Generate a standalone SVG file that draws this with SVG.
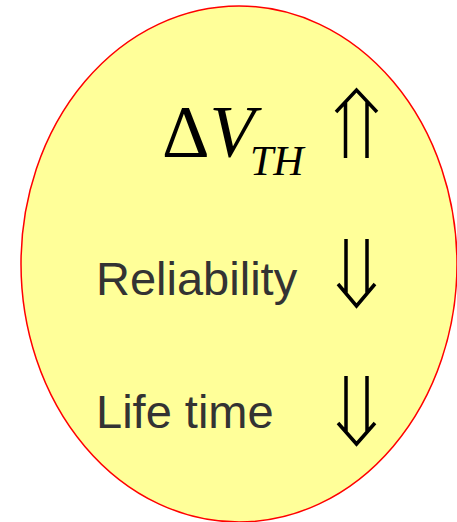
<svg xmlns="http://www.w3.org/2000/svg" width="457" height="522" viewBox="0 0 457 522">
<style>
.serif{font-family:"Liberation Serif","Times New Roman",serif;fill:#000}
.sans{font-family:"Liberation Sans",Arial,sans-serif;font-size:47px;fill:#333333}
.arrow{fill:none;stroke:#000;stroke-width:3.5;stroke-linecap:butt;stroke-linejoin:miter}
</style>
<rect width="457" height="522" fill="#ffffff"/>
<g id="oval">
<ellipse cx="239" cy="264" rx="218" ry="258" fill="#ffff99" stroke="#ff0000" stroke-width="1.5"/>
</g>
<g id="vth">
<text class="serif" x="162" y="157" font-size="74">Δ<tspan font-style="italic">V</tspan></text>
<text class="serif" x="250" y="175" font-size="42" font-style="italic">TH</text>
<path class="arrow" stroke-width="4" d="M345.5 158 V102 M367 158 V102 M336 112 L356.5 90 L377 112"/>
</g>
<g id="reliability">
<text class="sans" x="96" y="295">Reliability</text>
<path class="arrow" d="M346 239 V294 M367 239 V294 M338 284 L356.5 306 L375 284"/>
</g>
<g id="lifetime">
<text class="sans" x="96" y="428">Life time</text>
<path class="arrow" d="M346 376 V432 M367 376 V432 M338 423 L356.5 444 L375 423"/>
</g>
</svg>
